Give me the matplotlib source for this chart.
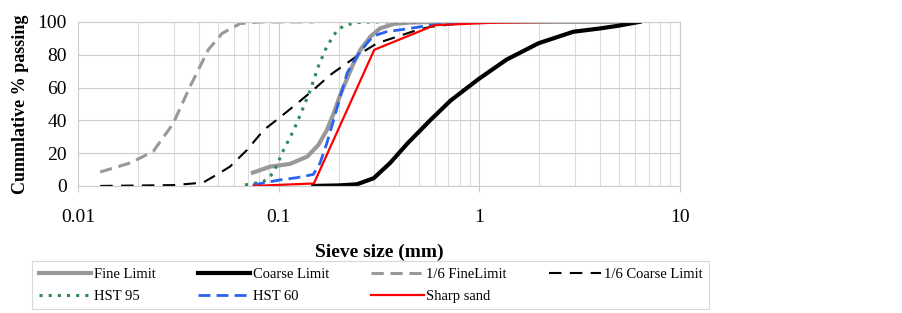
""" Sieve analysis grading curves, cumulative % passing vs sieve size. """

import matplotlib
matplotlib.use("Agg")
import matplotlib.pyplot as plt
from matplotlib.ticker import FixedLocator, NullFormatter, LogLocator

plt.rcParams['font.family'] = ['Liberation Serif', 'DejaVu Serif']

# Fine limit envelope
fine_x = [0.0745, 0.091, 0.114, 0.139, 0.158, 0.174, 0.188, 0.203, 0.22, 0.237,
          0.256, 0.287, 0.32, 0.376, 0.45, 0.6, 1.18, 2.36, 6.3]
fine_y = [8.1, 11.8, 13.4, 17.9, 25, 34, 44, 55.5, 65.7, 75,
          83, 91, 96, 98.8, 99.6, 100, 100, 100, 100]

# Coarse limit envelope
coarse_x = [0.149, 0.2, 0.246, 0.298, 0.36, 0.44, 0.57, 0.72, 0.99, 1.37,
            1.98, 2.95, 4.0, 4.9, 6.3]
coarse_y = [0, 0.3, 1, 4.7, 14, 26, 40, 52, 65, 77,
            87, 94, 96, 97.6, 100]

# 1/6 fine limit
sixth_fine_x = [0.0129, 0.0182, 0.0237, 0.0298, 0.036, 0.0446, 0.0523, 0.0643, 0.081, 0.15]
sixth_fine_y = [8.5, 14, 21, 38, 60, 83, 93, 99, 100, 100]

# 1/6 coarse limit
sixth_coarse_x = [0.0129, 0.03, 0.042, 0.051, 0.0573, 0.0697, 0.0842, 0.102, 0.123,
                  0.149, 0.181, 0.22, 0.266, 0.31, 0.39, 0.49, 0.57, 0.87, 1.5]
sixth_coarse_y = [0, 0.5, 2, 8, 11.8, 22, 34, 42, 50,
                  58.5, 67.7, 75, 82, 87, 91, 95, 97, 99.5, 100]

# HST 95
hst95_x = [0.068, 0.084, 0.094, 0.106, 0.119, 0.131, 0.144, 0.158, 0.174, 0.196,
           0.215, 0.246, 0.298, 0.5]
hst95_y = [0.6, 2.6, 7.7, 22, 34, 46, 58.5, 73, 85, 95,
           98, 99.6, 100, 100]

# HST 60
hst60_x = [0.0745, 0.102, 0.123, 0.149, 0.161, 0.174, 0.188, 0.203, 0.22, 0.246,
           0.276, 0.298, 0.345, 0.45, 0.57, 1.0]
hst60_y = [0.6, 3.7, 5, 7, 14, 26, 40, 54.5, 69, 79,
           87, 91.5, 94, 96, 98, 100]

# Sharp sand
sharp_x = [0.075, 0.15, 0.3, 0.6, 1.18, 2.36, 4.75, 6.3]
sharp_y = [0, 1.5, 83, 98, 99.5, 100, 100, 100]

fig = plt.figure(figsize=(9.02, 3.13), dpi=100)
ax = fig.add_axes([0.0865, 0.406, 0.667, 0.524])

h_fine, = ax.plot(fine_x, fine_y, color="#999999", lw=3.0, label="Fine Limit")
h_coarse, = ax.plot(coarse_x, coarse_y, color="black", lw=3.0, label="Coarse Limit")
h_sf, = ax.plot(sixth_fine_x, sixth_fine_y, color="#999999", lw=2.2, dashes=(4, 2.2),
                label="1/6 FineLimit")
h_sc, = ax.plot(sixth_coarse_x, sixth_coarse_y, color="black", lw=1.5, dashes=(6, 4),
                label="1/6 Coarse Limit")
h_95, = ax.plot(hst95_x, hst95_y, color="#2e8b57", lw=2.2, linestyle=(0, (1, 2)),
                label="HST 95")
h_60, = ax.plot(hst60_x, hst60_y, color="#2a62f0", lw=2.0, dashes=(4.3, 2.2),
                label="HST 60")
h_ss, = ax.plot(sharp_x, sharp_y, color="#ff0000", lw=1.6, label="Sharp sand")

ax.set_xscale("log")
ax.set_xlim(0.01, 10)
ax.set_ylim(0, 100)
ax.set_yticks([0, 20, 40, 60, 80, 100])
ax.xaxis.set_major_locator(FixedLocator([0.01, 0.1, 1, 10]))
ax.set_xticklabels(["0.01", "0.1", "1", "10"])
ax.xaxis.set_minor_locator(LogLocator(base=10, subs=range(2, 10)))
ax.xaxis.set_minor_formatter(NullFormatter())

ax.grid(which="major", color="#cccccc", lw=0.8)
ax.grid(which="minor", axis="x", color="#dddddd", lw=0.8)
ax.set_axisbelow(True)
for s in ax.spines.values():
    s.set_color("#cccccc")
ax.tick_params(axis="x", which="major", length=4.5, color="#cccccc", labelsize=14, pad=12)
ax.tick_params(axis="x", which="minor", length=0)
ax.tick_params(axis="y", length=0, labelsize=14, pad=8)

ax.set_ylabel("Cummlative % passing", fontsize=13, fontweight="bold", labelpad=6)
ax.set_xlabel("Sieve size (mm)", fontsize=14, fontweight="bold", labelpad=12.5)

# legend fills row by row in the original, so order handles column-wise
handles = [h_fine, h_95, h_coarse, h_60, h_sf, h_ss, h_sc]
leg = fig.legend(handles=handles, labels=[h.get_label() for h in handles],
                 loc="upper left", bbox_to_anchor=(0.0355, 0.0, 0.751, 0.166),
                 mode="expand", ncol=4, fontsize=10.5, handlelength=3.6,
                 handletextpad=0.2, borderaxespad=0, frameon=True, fancybox=False,
                 edgecolor="#d0d0d0", borderpad=0.45, labelspacing=0.6)
leg.get_frame().set_linewidth(0.8)

plt.savefig("out.png", dpi=100)
